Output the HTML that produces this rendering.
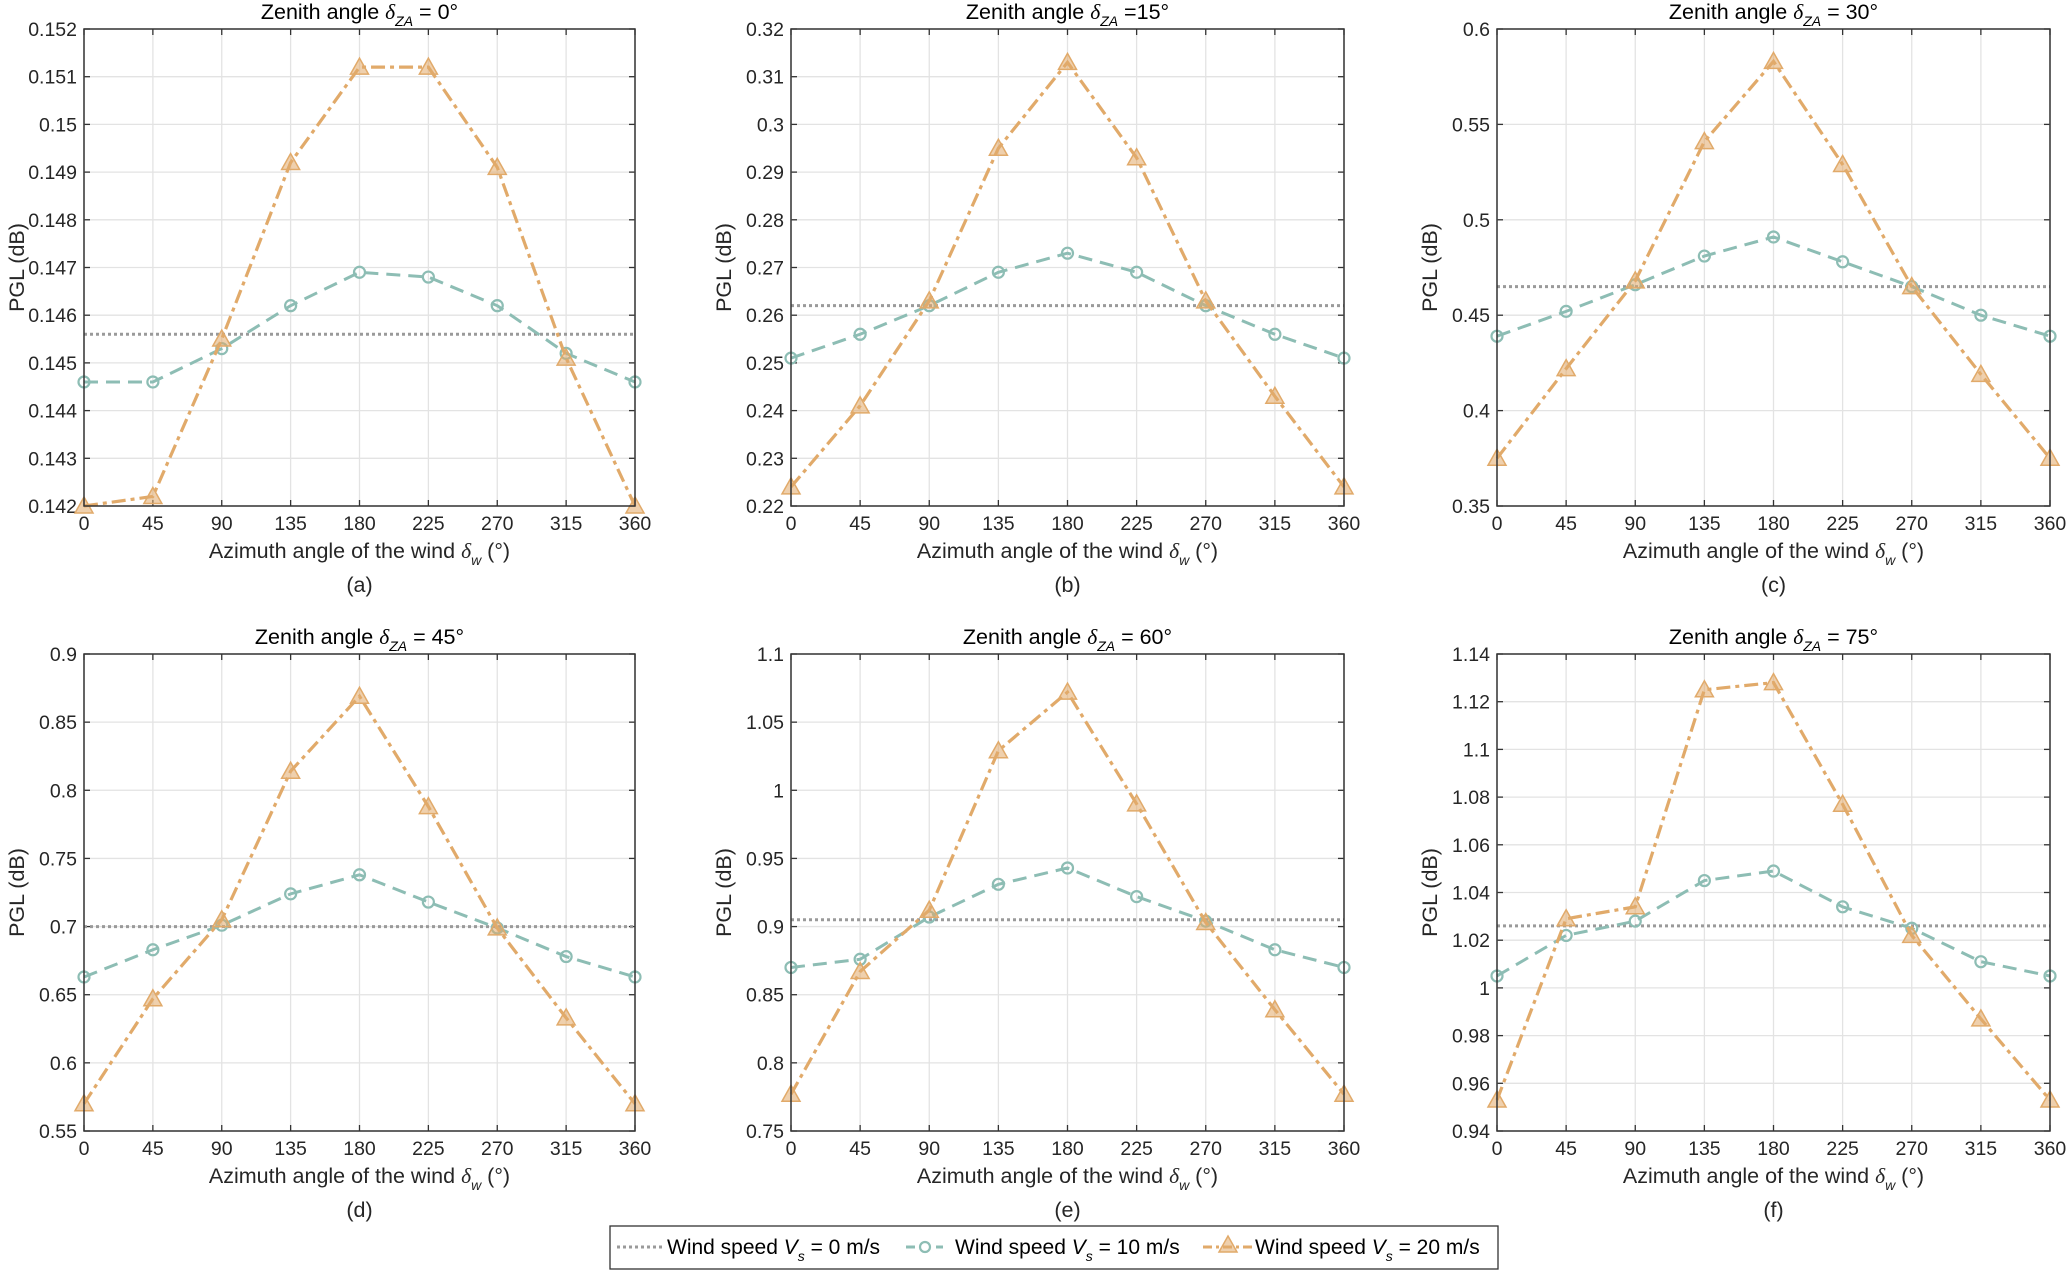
<!DOCTYPE html>
<html><head><meta charset="utf-8">
<style>
html,body{margin:0;padding:0;background:#fff;}
svg{display:block;font-family:"Liberation Sans",Arial,sans-serif;}
</style></head>
<body>
<svg id="fig" width="2066" height="1272" viewBox="0 0 2066 1272" xmlns="http://www.w3.org/2000/svg"></svg>
<script>
const categories=[0,45,90,135,180,225,270,315,360];
const titles=["0°","=15°","30°","45°","60°","75°"];
const letters=["(a)","(b)","(c)","(d)","(e)","(f)"];
const yMin=[0.142,0.22,0.35,0.55,0.75,0.94];
const yMax=[0.152,0.32,0.6,0.9,1.1,1.14];
const yStep=[0.001,0.01,0.05,0.05,0.05,0.02];
const ref0=[0.1456,0.262,0.465,0.700,0.905,1.026];
const s10a=[0.1446,0.1446,0.1453,0.1462,0.1469,0.1468,0.1462,0.1452,0.1446];
const s20a=[0.1420,0.1422,0.1455,0.1492,0.1512,0.1512,0.1491,0.1451,0.1420];
const s10b=[0.251,0.256,0.262,0.269,0.273,0.269,0.262,0.256,0.251];
const s20b=[0.224,0.241,0.263,0.295,0.313,0.293,0.263,0.243,0.224];
const s10c=[0.439,0.452,0.466,0.481,0.491,0.478,0.465,0.450,0.439];
const s20c=[0.375,0.422,0.468,0.541,0.583,0.529,0.465,0.419,0.375];
const s10d=[0.663,0.683,0.701,0.724,0.738,0.718,0.699,0.678,0.663];
const s20d=[0.570,0.647,0.705,0.814,0.869,0.788,0.699,0.633,0.570];
const s10e=[0.870,0.876,0.907,0.931,0.943,0.922,0.904,0.883,0.870];
const s20e=[0.777,0.867,0.912,1.029,1.072,0.990,0.903,0.839,0.777];
const s10f=[1.005,1.022,1.028,1.045,1.049,1.034,1.025,1.011,1.005];
const s20f=[0.953,1.029,1.034,1.125,1.128,1.077,1.022,0.987,0.953];
const series10=[s10a,s10b,s10c,s10d,s10e,s10f];
const series20=[s20a,s20b,s20c,s20d,s20e,s20f];

const NS="http://www.w3.org/2000/svg";
const svg=document.getElementById('fig');
function mk(tag,attrs,parent,text){const e=document.createElementNS(NS,tag);for(const k in attrs)e.setAttribute(k,attrs[k]);if(text!==undefined)e.textContent=text;(parent||svg).appendChild(e);return e;}
const TEAL="#8dbdb4",ORANGE="#e1aa6a",GRAY="#9a9a9a";
const colsX=[84,791,1497],W=[551,553,553];
const rowsY=[29,654],H=477;
function fmt(v){return parseFloat(v.toFixed(4)).toString();}
function tri(g,x,y){return mk('path',{d:`M${x},${y-9} L${x+9},${y+7} L${x-9},${y+7} Z`,fill:ORANGE,stroke:ORANGE,'stroke-width':1.5,'fill-opacity':0.55},g);}
for(let p=0;p<6;p++){
  const L=colsX[p%3],T=rowsY[Math.floor(p/3)],w=W[p%3];
  const g=mk('g',{});
  
  
  const sx=v=>L+(v-0)/360*w;
  const sy=v=>T+H-(v-yMin[p])/(yMax[p]-yMin[p])*H;
  const nT=Math.round((yMax[p]-yMin[p])/yStep[p]);
  for(let i=0;i<=nT;i++){const v=yMin[p]+i*yStep[p];const y=sy(v);
    mk('line',{x1:L,x2:L+w,y1:y,y2:y,stroke:'#e3e3e3','stroke-width':1.3},g);
    mk('line',{x1:L,x2:L+6,y1:y,y2:y,stroke:'#333','stroke-width':1.3},g);
    mk('line',{x1:L+w-6,x2:L+w,y1:y,y2:y,stroke:'#333','stroke-width':1.3},g);
    const t=mk('text',{x:L-7,y:y+7,'text-anchor':'end','font-size':19.5,fill:'#262626'},g,fmt(v));
    
  }
  categories.forEach(c=>{const x=sx(c);
    mk('line',{x1:x,x2:x,y1:T,y2:T+H,stroke:'#e3e3e3','stroke-width':1.3},g);
    mk('line',{x1:x,x2:x,y1:T+H-6,y2:T+H,stroke:'#333','stroke-width':1.3},g);
    mk('line',{x1:x,x2:x,y1:T,y2:T+6,stroke:'#333','stroke-width':1.3},g);
    const t=mk('text',{x:x,y:T+H+24,'text-anchor':'middle','font-size':19.5,fill:'#262626'},g,String(c));
    
  });
  const r=mk('line',{x1:L,x2:L+w,y1:sy(ref0[p]),y2:sy(ref0[p]),stroke:GRAY,'stroke-width':3,'stroke-dasharray':'3 3'},g);
  
  const p10=series10[p].map((v,i)=>sx(categories[i])+','+sy(v)).join(' ');
  const l10=mk('polyline',{points:p10,fill:'none',stroke:TEAL,'stroke-width':3,'stroke-dasharray':'14 8'},g);
  
  series10[p].forEach((v,i)=>{const c=mk('circle',{cx:sx(categories[i]),cy:sy(v),r:5.5,fill:'none',stroke:TEAL,'stroke-width':2.2},g);
    });
  const p20=series20[p].map((v,i)=>sx(categories[i])+','+sy(v)).join(' ');
  const l20=mk('polyline',{points:p20,fill:'none',stroke:ORANGE,'stroke-width':3.2,'stroke-dasharray':'14 5 4 5'},g);
  
  series20[p].forEach((v,i)=>{const m=tri(g,sx(categories[i]),sy(v));
    });
  mk('rect',{x:L,y:T,width:w,height:H,fill:'none',stroke:'#333','stroke-width':1.5},g);
  const cx=L+w/2;
  const tt=mk('text',{x:cx,y:T-10,'text-anchor':'middle','font-size':21.5,fill:'#000'},g);
  
  tt.innerHTML=`Zenith angle <tspan font-style="italic" font-family="Liberation Serif">δ</tspan><tspan font-size="14" font-style="italic" dy="7">ZA</tspan><tspan dy="-7"> ${p==1?'':'= '}${titles[p]}</tspan>`;
  const xl=mk('text',{x:cx,y:T+H+52,'text-anchor':'middle','font-size':21.5,fill:'#262626'},g);
  
  xl.innerHTML=`Azimuth angle of the wind <tspan font-style="italic" font-family="Liberation Serif">δ</tspan><tspan font-size="14" font-style="italic" dy="7">w</tspan><tspan dy="-7"> (°)</tspan>`;
  const yl=mk('text',{x:0,y:0,'text-anchor':'middle','font-size':21.5,fill:'#262626',transform:`translate(${L-60},${T+H/2}) rotate(-90)`},g,'PGL (dB)');
  
  const lt=mk('text',{x:cx,y:T+H+86,'text-anchor':'middle','font-size':21.5,fill:'#262626'},g,letters[p]);
  
}
const lg=mk('g',{});


mk('rect',{x:610,y:1226,width:888,height:43,fill:'#fff',stroke:'#333','stroke-width':1.3},lg);
function legText(x,label){const t=mk('text',{x:x,y:1254,'font-size':21,fill:'#000'},lg);
  t.innerHTML=`Wind speed <tspan font-style="italic">V</tspan><tspan font-size="14" font-style="italic" dy="7">s</tspan><tspan dy="-7"> = ${label}</tspan>`;
  }
mk('line',{x1:617,x2:665,y1:1247,y2:1247,stroke:GRAY,'stroke-width':3,'stroke-dasharray':'3 3'},lg);
legText(667,'0 m/s');
mk('line',{x1:906,x2:943,y1:1247,y2:1247,stroke:TEAL,'stroke-width':3,'stroke-dasharray':'9 6'},lg);
mk('circle',{cx:925,cy:1247,r:5,fill:'#fff',stroke:TEAL,'stroke-width':2.2},lg);
legText(955,'10 m/s');
mk('line',{x1:1203,x2:1253,y1:1247,y2:1247,stroke:ORANGE,'stroke-width':3,'stroke-dasharray':'9 4 3 4'},lg);
tri(lg,1228,1245);
legText(1255,'20 m/s');
</script>
</body></html>
